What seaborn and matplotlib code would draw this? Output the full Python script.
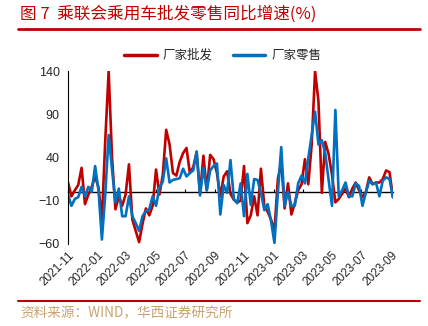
import numpy as np
import pandas as pd
import matplotlib
matplotlib.use("Agg")
import matplotlib.pyplot as plt
import matplotlib.dates as mdates
import seaborn as sns

# ---- data ----
start_date = "2021-11-07"
n_weeks = 97
wholesale = [11, -5, 2, 8, 28, -14, -3, 6, 18, 5,
             -32, 60, 140, 40, -20, -5, -16, -3, 32, -32,
             -45, -58, -37, -19, -27, -16, 26, -3, 20, 72,
             55, 22, 19, 35, 45, 51, 22, 29, 46, -2,
             42, 2, 43, 38, 22, -5, 18, 24, -2, -9,
             -12, -10, 30, -36, -27, -5, -27, 27, -16, -23,
             -32, -45, 15, 35, -19, 10, -26, -13, 2, 9,
             38, 9, 55, 140, 105, -1, 58, 44, 20, -12,
             -8, -2, 4, -6, 4, 11, 2, -6, 0, 17,
             9, 11, 11, 15, 25, 23, -6]
retail = [-3, -16, -8, -6, 6, -5, 6, 0, 30, 2,
          -55, -3, 66, 26, -12, 4, -28, -28, -5, -28,
          -36, -45, -28, -22, -20, -5, -16, 5, 12, 39,
          11, 14, 15, 16, 27, 18, 22, 25, 47, -4,
          28, 2, 25, 30, 33, -26, 8, -1, 37, -8,
          -13, 10, -28, 21, -15, 15, 14, -1, -21, -14,
          -34, -59, -1, 52, -16, 0, -16, -16, 10, 19,
          10, 39, 66, 93, 55, 60, 45, 14, -16, 95,
          -5, 2, 11, -5, -5, 10, 7, -16, -1, 13,
          9, 11, -5, 13, 17, 15, -6]
series_names = ["厂家批发", "厂家零售"]
colors = ["#C00000", "#0070C0"]
y_ticks = [-60, -10, 40, 90, 140]
title_text = "图 7  乘联会乘用车批发零售同比增速(%)"
source_text = "资料来源：WIND，华西证券研究所"

dates = pd.date_range(start_date, periods=n_weeks, freq="7D")
df = pd.DataFrame({
    "date": np.concatenate([dates, dates]),
    "value": wholesale + retail,
    "series": [series_names[0]] * n_weeks + [series_names[1]] * n_weeks,
})

sns.set_theme(style="white")
plt.rcParams["font.family"] = ["Liberation Sans", "Noto Sans CJK SC", "DejaVu Sans"]
plt.rcParams["axes.unicode_minus"] = True

fig = plt.figure(figsize=(4.28, 3.26), dpi=100)
ax = fig.add_axes([0.159, 0.252, 0.759, 0.53])

sns.lineplot(data=df, x="date", y="value", hue="series",
             palette=dict(zip(series_names, colors)), linewidth=1.9,
             ax=ax, legend=False)

ax.set_xlim(dates[0], dates[-1])
ax.set_ylim(-60, 140)
ax.set_yticks(y_ticks)
ax.set_xlabel("")
ax.set_ylabel("")

tick_dates = [pd.Timestamp(start_date) + pd.DateOffset(months=2 * k) for k in range(12)]
ax.set_xticks(tick_dates)
ax.set_xticklabels([d.strftime("%Y-%m") for d in tick_dates], rotation=45,
                   ha="right", rotation_mode="anchor", fontsize=8.5)
ax.tick_params(axis="x", length=0, pad=4)
ax.tick_params(axis="y", direction="in", length=3, width=0.8, color="black",
               labelsize=9, pad=6)
for s in ["top", "right", "bottom"]:
    ax.spines[s].set_visible(False)
ax.spines["left"].set_color("black")
ax.spines["left"].set_linewidth(0.8)

# zero line with small tick marks
sec = ax.secondary_xaxis(60 / 200)
sec.set_xticks([mdates.date2num(d) for d in tick_dates])
sec.set_xticklabels([])
sec.tick_params(direction="in", length=2.5, width=0.8, color="black")
sec.spines["bottom"].set_color("black")
sec.spines["bottom"].set_linewidth(1.0)

# legend
handles = [plt.Line2D([], [], color=c, lw=2.5) for c in colors]
fig.legend(handles, series_names, loc="center", bbox_to_anchor=(0.521, 0.83),
           ncol=2, frameon=False, handlelength=2.6,
           columnspacing=1.6, handletextpad=0.5,
           prop={"family": ["Noto Sans CJK SC"], "size": 9})

# title and source
fig.text(0.047, 0.957, title_text, color="#C00000", fontsize=12,
         family=["Noto Sans CJK SC", "DejaVu Sans"], va="center", ha="left")
fig.add_artist(plt.Line2D([0.042, 0.982], [0.91, 0.91], color="#C00000", lw=2))
fig.add_artist(plt.Line2D([0.042, 0.982], [0.077, 0.077], color="#C00000", lw=1.5))
fig.text(0.047, 0.04, source_text, color="#C8A46E", fontsize=9.8,
         family=["Noto Sans CJK SC", "DejaVu Sans"], va="center", ha="left")

fig.savefig("out.png", dpi=100)
